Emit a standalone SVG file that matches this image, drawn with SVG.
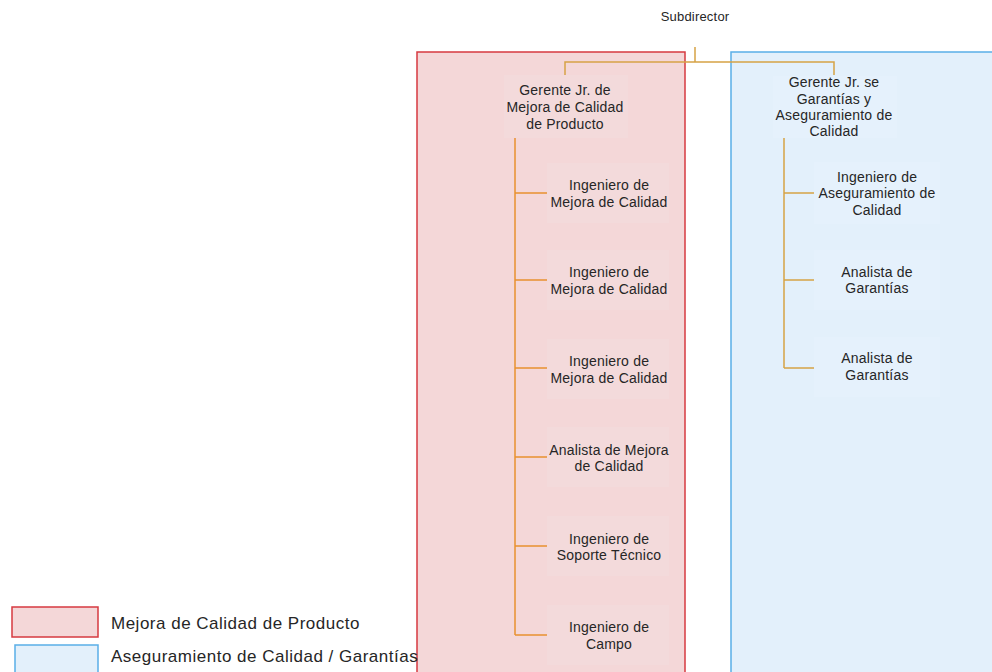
<svg xmlns="http://www.w3.org/2000/svg" width="992" height="672" viewBox="0 0 992 672">
<style>
text{font-family:"Liberation Sans",Arial,sans-serif;font-size:14px;fill:#262626;text-anchor:middle;letter-spacing:0.2px}
.lg{font-size:17px;text-anchor:start;letter-spacing:0.5px}
.nl{fill:#f3dadb;stroke:none}
.nr{fill:#e5f1fc;stroke:none}
.c{fill:none;stroke:#e8912f;stroke-width:1.5}
.c2{fill:none;stroke:#d6a245;stroke-width:1.5}
</style>
<rect width="992" height="672" fill="#fff"/>
<g id="area-mejora"><rect x="417" y="52" width="268" height="630" fill="#f4d7d8" stroke="#d63a40" stroke-width="1.5"/></g>
<g id="area-garantias"><rect x="731" y="52" width="270" height="630" fill="#e3f0fb" stroke="#5aaee8" stroke-width="1.5"/></g>
<g id="connectors">
<path class="c2" d="M695 47V62M565 75V62H834V75"/>
<path class="c" d="M515 138V635M515 193H547M515 280H547M515 368H547M515 457H547M515 546H547M515 635H547"/>
<path class="c2" d="M784 138V368M784 193H814M784 280H814M784 368H814"/>
</g>
<g id="subdirector"><rect x="634" y="0" width="100" height="46" fill="#fff"/><text x="695" y="21" style="font-size:13px">Subdirector</text></g>
<g id="gerente-mejora"><rect class="nl" x="504" y="75" width="124" height="63"/><text x="565" y="95">Gerente Jr. de</text><text x="565" y="112">Mejora de Calidad</text><text x="565" y="129">de Producto</text></g>
<g id="gerente-garantias"><rect class="nr" x="773" y="76" width="124" height="62"/><text x="834" y="87">Gerente Jr. se</text><text x="834" y="104">Garantías y</text><text x="834" y="120">Aseguramiento de</text><text x="834" y="136">Calidad</text></g>
<g id="ing1"><rect class="nl" x="547" y="163" width="122" height="60"/><text x="609" y="190">Ingeniero de</text><text x="609" y="207">Mejora de Calidad</text></g>
<g id="ing2"><rect class="nl" x="547" y="250" width="122" height="60"/><text x="609" y="277">Ingeniero de</text><text x="609" y="294">Mejora de Calidad</text></g>
<g id="ing3"><rect class="nl" x="547" y="339" width="122" height="60"/><text x="609" y="366">Ingeniero de</text><text x="609" y="383">Mejora de Calidad</text></g>
<g id="analista-mejora"><rect class="nl" x="547" y="427" width="122" height="60"/><text x="609" y="455">Analista de Mejora</text><text x="609" y="471">de Calidad</text></g>
<g id="ing-soporte"><rect class="nl" x="547" y="516" width="122" height="60"/><text x="609" y="544">Ingeniero de</text><text x="609" y="560">Soporte Técnico</text></g>
<g id="ing-campo"><rect class="nl" x="547" y="605" width="122" height="60"/><text x="609" y="632">Ingeniero de</text><text x="609" y="649">Campo</text></g>
<g id="ing-aseg"><rect class="nr" x="814" y="162" width="126" height="62"/><text x="877" y="182">Ingeniero de</text><text x="877" y="198">Aseguramiento de</text><text x="877" y="215">Calidad</text></g>
<g id="analista-gar1"><rect class="nr" x="814" y="250" width="126" height="60"/><text x="877" y="277">Analista de</text><text x="877" y="293">Garantías</text></g>
<g id="analista-gar2"><rect class="nr" x="814" y="337" width="126" height="60"/><text x="877" y="363">Analista de</text><text x="877" y="380">Garantías</text></g>
<g id="legend">
<rect x="12" y="607" width="86" height="30" fill="#f4d7d8" stroke="#d63a40" stroke-width="1.5"/>
<text class="lg" x="111" y="629">Mejora de Calidad de Producto</text>
<rect x="15" y="645" width="83" height="28" fill="#e3f0fb" stroke="#5aaee8" stroke-width="1.5"/>
<text class="lg" x="111" y="662">Aseguramiento de Calidad / Garantías</text>
</g>
</svg>
